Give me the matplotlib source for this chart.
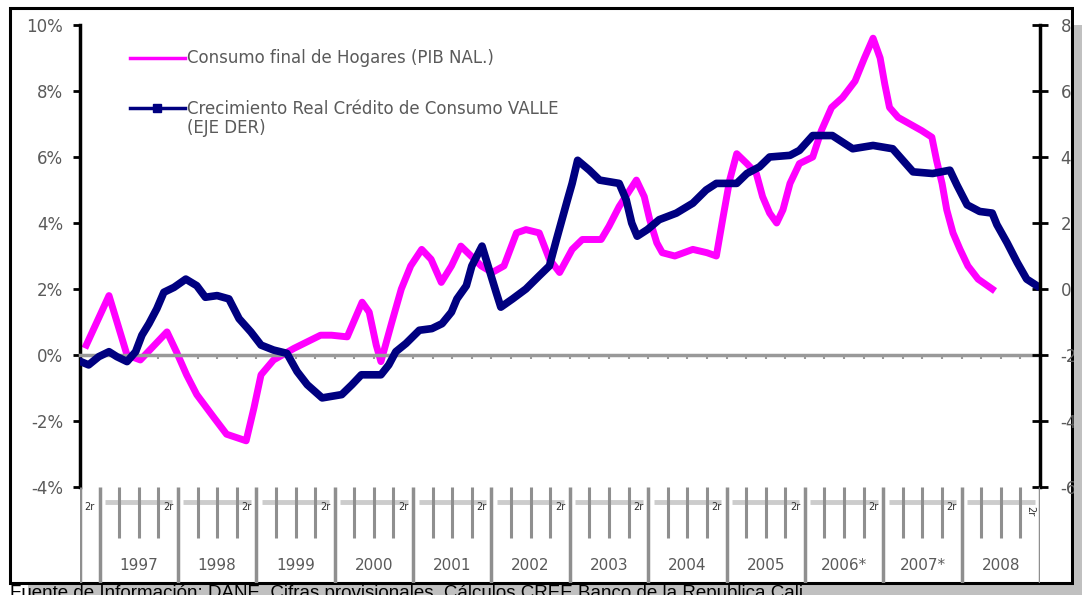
import matplotlib.pyplot as plt
from matplotlib.patches import Rectangle
from matplotlib.lines import Line2D

# Consumo final de Hogares (PIB NAL.), variación % (eje izquierdo)
consumo_t = [1996.83, 1997.12, 1997.35, 1997.52, 1997.86, 1997.98, 1998.11, 1998.24,
             1998.46, 1998.62, 1998.87, 1998.97, 1999.06, 1999.22, 1999.48, 1999.82,
             1999.96, 2000.16, 2000.35, 2000.44, 2000.53, 2000.59, 2000.73, 2000.85,
             2000.97, 2001.11, 2001.23, 2001.36, 2001.49, 2001.61, 2001.74, 2001.87,
             2002.01, 2002.16, 2002.32, 2002.44, 2002.61, 2002.74, 2002.87, 2003.03,
             2003.16, 2003.40, 2003.50, 2003.63, 2003.85, 2003.95, 2004.02, 2004.11,
             2004.18, 2004.34, 2004.57, 2004.75, 2004.87, 2004.95, 2005.04, 2005.13,
             2005.26, 2005.38, 2005.46, 2005.55, 2005.64, 2005.72, 2005.81, 2005.93,
             2006.10, 2006.21, 2006.34, 2006.48, 2006.64, 2006.76, 2006.87, 2006.96,
             2007.02, 2007.08, 2007.19, 2007.34, 2007.49, 2007.62, 2007.68, 2007.75,
             2007.81, 2007.89, 2007.98, 2008.08, 2008.21, 2008.39]
consumo_v = [0.3, 1.8, 0.0, -0.15, 0.7, 0.1, -0.6, -1.2,
             -1.9, -2.4, -2.6, -1.6, -0.6, -0.15, 0.2, 0.6,
             0.6, 0.55, 1.6, 1.3, 0.3, -0.2, 1.0, 2.0,
             2.7, 3.2, 2.9, 2.2, 2.7, 3.3, 3.0, 2.7,
             2.5, 2.7, 3.7, 3.8, 3.7, 2.9, 2.5, 3.2,
             3.5, 3.5, 3.9, 4.5, 5.3, 4.8, 4.1, 3.4,
             3.1, 3.0, 3.2, 3.1, 3.0, 4.1, 5.3, 6.1,
             5.8, 5.5, 4.8, 4.3, 4.0, 4.4, 5.2, 5.8,
             6.0, 6.8, 7.5, 7.8, 8.3, 9.0, 9.6, 9.0,
             8.2, 7.5, 7.2, 7.0, 6.8, 6.6, 5.9, 5.2,
             4.4, 3.7, 3.2, 2.7, 2.3, 2.0]

# Crecimiento real crédito de consumo VALLE (eje derecho)
credito_t = [1996.76, 1996.86, 1996.99, 1997.12, 1997.22, 1997.35, 1997.46, 1997.54,
             1997.63, 1997.73, 1997.82, 1997.95, 1998.10, 1998.24, 1998.35, 1998.50,
             1998.65, 1998.78, 1998.93, 1999.06, 1999.22, 1999.39, 1999.52, 1999.65,
             1999.84, 2000.09, 2000.22, 2000.34, 2000.59, 2000.69, 2000.78, 2000.91,
             2001.08, 2001.24, 2001.37, 2001.49, 2001.56, 2001.68, 2001.75, 2001.88,
             2001.97, 2002.06, 2002.12, 2002.27, 2002.44, 2002.61, 2002.74, 2002.83,
             2002.90, 2002.97, 2003.03, 2003.10, 2003.25, 2003.38, 2003.63, 2003.72,
             2003.79, 2003.86, 2003.99, 2004.14, 2004.36, 2004.57, 2004.74, 2004.87,
             2005.13, 2005.26, 2005.42, 2005.55, 2005.81, 2005.93, 2006.10, 2006.35,
             2006.48, 2006.61, 2006.87, 2007.12, 2007.25, 2007.38, 2007.63, 2007.85,
             2007.94, 2008.07, 2008.23, 2008.39, 2008.45, 2008.58, 2008.71, 2008.83,
             2008.96]
credito_v = [-2.2, -2.3, -2.05, -1.9, -2.05, -2.2, -1.9, -1.4,
             -1.05, -0.6, -0.1, 0.05, 0.3, 0.1, -0.25, -0.2,
             -0.3, -0.9, -1.3, -1.7, -1.85, -1.95, -2.5, -2.9,
             -3.3, -3.2, -2.9, -2.6, -2.6, -2.3, -1.9, -1.65,
             -1.25, -1.2, -1.05, -0.7, -0.3, 0.1, 0.7, 1.3,
             0.6, -0.1, -0.55, -0.3, 0.0, 0.4, 0.7, 1.5,
             2.1, 2.7, 3.2, 3.9, 3.6, 3.3, 3.2, 2.7,
             2.0, 1.6, 1.8, 2.1, 2.3, 2.6, 3.0, 3.2,
             3.2, 3.5, 3.7, 4.0, 4.05, 4.2, 4.65, 4.65,
             4.45, 4.25, 4.35, 4.25, 3.9, 3.55, 3.5, 3.6,
             3.15, 2.55, 2.35, 2.3, 1.95, 1.4, 0.8, 0.3,
             0.1]

years = [1997, 1998, 1999, 2000, 2001, 2002, 2003, 2004, 2005, 2006, 2007, 2008]
year_labels = ['1997', '1998', '1999', '2000', '2001', '2002', '2003', '2004',
               '2005', '2006*', '2007*', '2008']
left_ticks = [-4, -2, 0, 2, 4, 6, 8, 10]
left_labels = ['-4%', '-2%', '0%', '2%', '4%', '6%', '8%', '10%']
right_ticks = [-6, -4, -2, 0, 2, 4, 6, 8]
right_labels = ['-6', '-4', '-2', '0', '2', '4', '6', '8']

label_consumo = 'Consumo final de Hogares (PIB NAL.)'
label_credito = 'Crecimiento Real Crédito de Consumo VALLE'
fuente = 'Fuente de Información: DANE, Cifras provisionales, Cálculos CREE Banco de la Republica Cali'

W, H = 1082, 595
PINK = '#ff00ff'
NAVY = '#000080'
GREY_TXT = '#5a5a5a'

plt.rcParams['font.family'] = ['DejaVu Sans']

fig = plt.figure(figsize=(W / 100, H / 100), dpi=100)


def fx(px):
    return px / W


def fy(py):
    return 1 - py / H


# shadow + white frame
fig.add_artist(Rectangle((fx(28), fy(601)), 1062 / W, 576 / H, transform=fig.transFigure,
                         facecolor='#c0c0c0', edgecolor='none', zorder=-3))
fig.add_artist(Rectangle((fx(10), fy(583)), 1062 / W, 575 / H, transform=fig.transFigure,
                         facecolor='white', edgecolor='black', lw=2.2, zorder=-2))

xmin, xmax = years[0] - 0.25, years[-1] + 1

ax = fig.add_axes([fx(80), fy(487), 960 / W, 462 / H])
ax.set_facecolor('none')
ax.set_xlim(xmin, xmax)
ax.set_ylim(left_ticks[0], left_ticks[-1])
ax.plot(consumo_t, consumo_v, color=PINK, lw=5)

quarters = [xmin + 0.25 * i for i in range(4 * len(years) + 2)]
ax.set_xticks(quarters)
ax.tick_params(axis='x', direction='out', length=3, width=1.5, color='#999999',
               labelbottom=False)
ax.spines['bottom'].set_position(('data', 0))
ax.spines['bottom'].set_color('#999999')
ax.spines['bottom'].set_linewidth(2.5)
ax.spines['left'].set_linewidth(2.5)
ax.spines['top'].set_visible(False)
ax.spines['right'].set_visible(False)
ax.set_yticks(left_ticks, left_labels)
ax.tick_params(axis='y', direction='out', length=5, width=2, pad=7,
               labelsize=12, labelcolor=GREY_TXT)

ax2 = ax.twinx()
ax2.set_ylim(right_ticks[0], right_ticks[-1])
ax2.plot(credito_t, credito_v, color=NAVY, lw=5.5)
for s in ['top', 'bottom', 'left']:
    ax2.spines[s].set_visible(False)
ax2.spines['right'].set_linewidth(2.5)
ax2.set_yticks(right_ticks, right_labels)
ax2.tick_params(axis='y', direction='inout', length=11.5, width=2, pad=9,
                labelsize=12, labelcolor=GREY_TXT)

handles = [Line2D([], [], color=PINK, lw=2.5),
           Line2D([], [], color=NAVY, lw=2.5, marker='s', markersize=6)]
leg = ax2.legend(handles, [label_consumo, label_credito], loc='upper left',
                 bbox_to_anchor=(0.052, 0.947), frameon=False, fontsize=12,
                 handlelength=3.3, handletextpad=0.1, labelspacing=1.95,
                 borderaxespad=0, borderpad=0)
for t in leg.get_texts():
    t.set_color(GREY_TXT)
ax2.annotate('(EJE DER)', xy=(0, 0), xycoords=leg.get_texts()[1], xytext=(0, -1),
             textcoords='offset points', ha='left', va='top', fontsize=12,
             color=GREY_TXT, zorder=6)

# category axis below the plot
axc = fig.add_axes([fx(80), fy(583), 960 / W, 96 / H])
axc.set_facecolor('none')
axc.set_xlim(xmin, xmax)
axc.set_ylim(0, 1)
axc.axis('off')
for yr in years:
    axc.hlines(0.84, yr + 0.07, yr + 0.93, color='#cccccc', lw=3.5, zorder=1)
axc.vlines([xmin] + years + [xmax], 0, 1, color='#8f8f8f', lw=2.5, zorder=2)
minor = [yr + q for yr in years for q in (0.25, 0.5, 0.75)]
axc.vlines(minor, 0.47, 1, color='#8f8f8f', lw=2.2, zorder=2)
for yr in [years[0] - 1] + years[:-1]:
    axc.text(yr + 0.875, 0.79, '2r', ha='center', va='center', fontsize=7,
             color='#303030', zorder=3)
axc.text(years[-1] + 0.875, 0.75, '2r', ha='center', va='center', fontsize=7,
         color='#303030', rotation=270, zorder=3)
for yr, lab in zip(years, year_labels):
    axc.text(yr + 0.5, 0.18, lab, ha='center', va='center', fontsize=11,
             color=GREY_TXT)

fig.text(fx(10), fy(585), fuente, ha='left', va='top', fontsize=13.5,
         family='Liberation Sans', color='black')

# cut off the right side like the screenshot
fig.add_artist(Rectangle((fx(1073.5), fy(601)), 20 / W, 576 / H, transform=fig.transFigure,
                         facecolor='#c0c0c0', edgecolor='none', zorder=10))
fig.add_artist(Rectangle((fx(1073.5), fy(25)), 20 / W, 25 / H, transform=fig.transFigure,
                         facecolor='white', edgecolor='none', zorder=10))

fig.savefig('out.png', dpi=100)
